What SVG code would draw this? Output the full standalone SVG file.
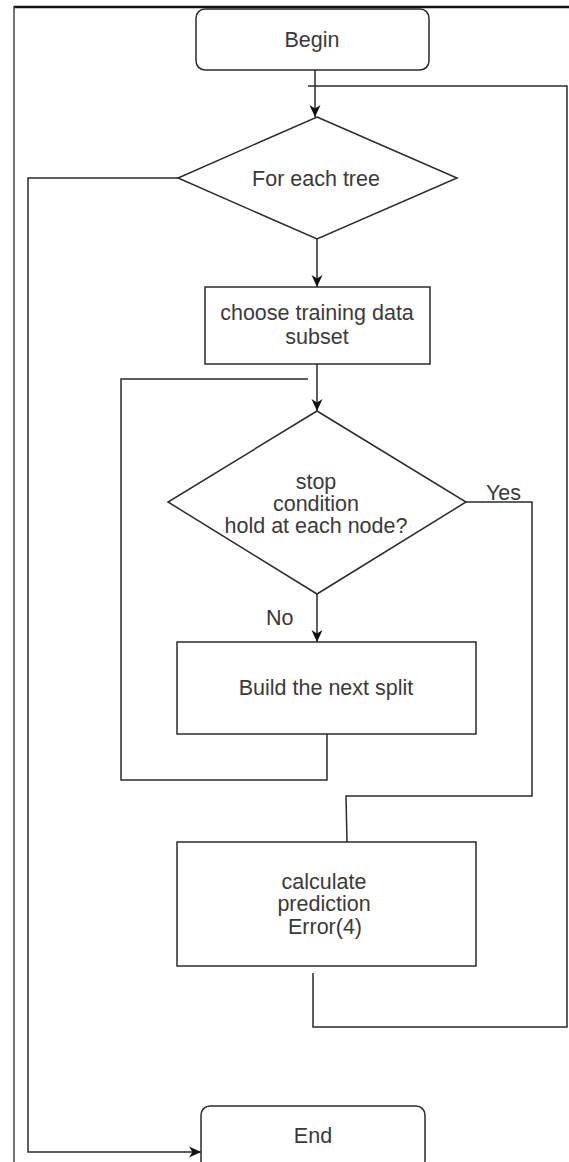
<svg xmlns="http://www.w3.org/2000/svg" width="569" height="1162" viewBox="0 0 569 1162">
<defs>
<style>
.n{fill:#fff;stroke:#2b2b2b;stroke-width:1.5}
.c{fill:none;stroke:#2b2b2b;stroke-width:1.5}
.t{font-family:"Liberation Sans",Arial,sans-serif;font-size:21.5px;fill:#3a3a3a;text-anchor:middle}
.l{font-family:"Liberation Sans",Arial,sans-serif;font-size:21.5px;fill:#3a3a3a}
</style>
<marker id="ah" viewBox="0 0 12 12" refX="12" refY="6" markerWidth="12" markerHeight="12" markerUnits="userSpaceOnUse" orient="auto">
<path d="M0,0.5 L12,6 L0,11.5 L3.5,6 z" fill="#111"/>
</marker>
</defs>
<rect width="569" height="1162" fill="#fff"/>
<g id="frame">
<line x1="14" y1="7" x2="569" y2="7" stroke="#111" stroke-width="2.5"/>
<line x1="14" y1="6" x2="14" y2="1162" stroke="#444" stroke-width="1.5"/>
</g>
<g id="connectors">
<path class="c" d="M315,70 V117" marker-end="url(#ah)"/>
<path class="c" d="M313,973 V1027 H567 V86 H308"/>
<path class="c" d="M178,178 H28 V1152 H201" marker-end="url(#ah)"/>
<path class="c" d="M317,239 V287" marker-end="url(#ah)"/>
<path class="c" d="M317,364 V411" marker-end="url(#ah)"/>
<path class="c" d="M327,734 V780 H121 V379 H308"/>
<path class="c" d="M466,502 H532 V796 H346 L347,842"/>
<path class="c" d="M317,594 V642" marker-end="url(#ah)"/>
<text class="l" x="486" y="500">Yes</text>
<text class="l" x="266" y="625">No</text>
</g>
<g id="begin">
<rect class="n" x="196" y="9" width="233" height="61" rx="9"/>
<text class="t" x="312" y="47">Begin</text>
</g>
<g id="for-each-tree">
<polygon class="n" points="317,117 457,178 317,239 178,178"/>
<text class="t" x="316" y="186">For each tree</text>
</g>
<g id="choose-subset">
<rect class="n" x="205" y="287" width="225" height="77"/>
<text class="t" x="317" y="320">choose training data</text>
<text class="t" x="317" y="344">subset</text>
</g>
<g id="stop-condition">
<polygon class="n" points="317,411 466,502 317,594 168,502"/>
<text class="t" x="316" y="489">stop</text>
<text class="t" x="316" y="511">condition</text>
<text class="t" x="316" y="533">hold at each node?</text>
</g>
<g id="build-split">
<rect class="n" x="177" y="642" width="299" height="92"/>
<text class="t" x="326" y="695">Build the next split</text>
</g>
<g id="calc-error">
<rect class="n" x="177" y="842" width="299" height="124"/>
<text class="t" x="324" y="889">calculate</text>
<text class="t" x="324" y="911">prediction</text>
<text class="t" x="325" y="934">Error(4)</text>
</g>
<g id="end">
<rect class="n" x="201" y="1106" width="224" height="64" rx="9"/>
<text class="t" x="313" y="1143">End</text>
</g>
</svg>
